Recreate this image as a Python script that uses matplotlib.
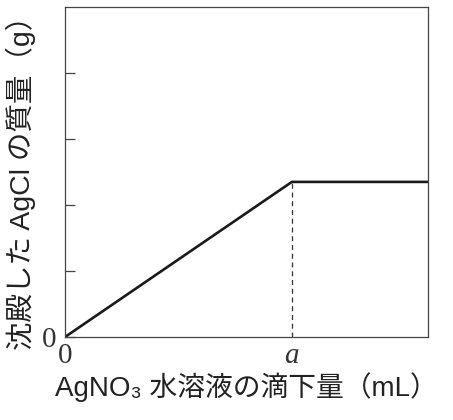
import matplotlib
matplotlib.use("Agg")
import matplotlib.pyplot as plt

# data (arbitrary units; a = 5 mL)
x_vals = [0, 5, 8]
y_vals = [0, 2.35, 2.35]
a_val = 5
y_ticks = [0, 1, 2, 3, 4]
x_tick_labels = ["0", "a"]

W, H = 453, 420
fig = plt.figure(figsize=(W / 100, H / 100), dpi=100)
ax = fig.add_axes([65 / W, (H - 337) / H, 363 / W, 330 / H])
ax.set_xlim(0, 8)
ax.set_ylim(0, 5)

ax.plot(x_vals, y_vals, color="#1a1a1a", lw=1.9, solid_capstyle="butt")
ax.plot([a_val, a_val], [0, y_vals[1]], color="#333333", lw=0.9, ls=(0, (4, 3)))

for s in ax.spines.values():
    s.set_color("#444444")
    s.set_linewidth(0.9)

ax.set_yticks(y_ticks)
ax.set_yticklabels(["0", "", "", "", ""])
ax.tick_params(axis="y", direction="in", length=7, width=0.9, color="#444444",
               labelsize=21, pad=6)
ax.set_xticks([0, a_val])
ax.set_xticklabels(x_tick_labels)
ax.tick_params(axis="x", length=0, labelsize=21, pad=4)
for lab in ax.get_yticklabels() + ax.get_xticklabels():
    lab.set_family(["Liberation Serif", "DejaVu Serif"])
    lab.set_color("#333333")
ax.get_xticklabels()[1].set_style("italic")

fam = ["Liberation Sans", "DejaVu Sans", "Noto Sans CJK JP"]
fig.text(246 / W, 1 - 387 / H, "AgNO₃ 水溶液の滴下量（mL）", family=fam,
         fontsize=20, ha="center", va="center", color="#222222")
fig.text(21 / W, 1 - 176 / H, "沈殿した AgCl の質量（g）", family=fam,
         fontsize=20.5, ha="center", va="center", rotation=90, color="#222222")

fig.savefig("out.png", dpi=100, facecolor="white")
